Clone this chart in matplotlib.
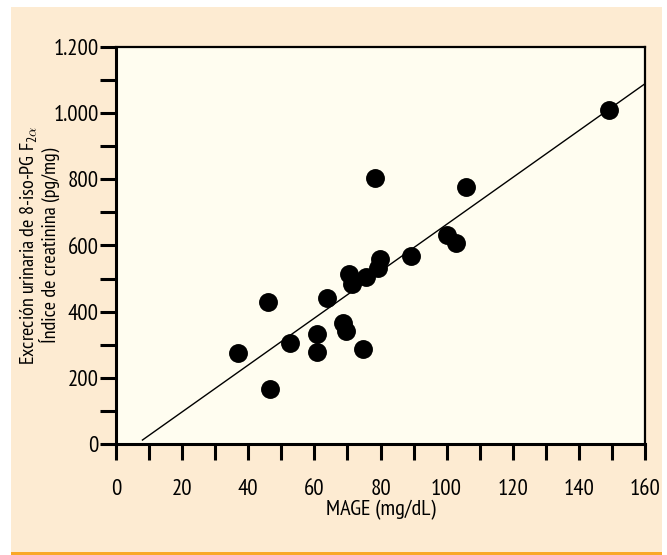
import matplotlib
matplotlib.use('Agg')
import matplotlib.pyplot as plt
from matplotlib.patches import Rectangle
from matplotlib import font_manager
import numpy as np


# valores
mage = [37.0, 45.9, 46.6, 52.6, 60.9, 60.7, 63.7, 68.7, 69.5, 74.6, 70.4,
        71.5, 75.7, 79.8, 79.2, 78.3, 89.2, 100.2, 102.7, 105.9, 149.0]
iso_pg = [274, 429, 165, 306, 334, 278, 440, 366, 341, 287, 515,
          483, 505, 558, 533, 803, 568, 631, 608, 776, 1010]

# recta de regresion (extremos leidos)
fit_x = [8, 160]
fit_y = [12, 1089]

xticks_major = [0, 20, 40, 60, 80, 100, 120, 140, 160]
xticks_minor = [10, 30, 50, 70, 90, 110, 130, 150]
yticks_major = [0, 200, 400, 600, 800, 1000, 1200]
yticks_minor = [100, 300, 500, 700, 900, 1100]
ytick_labels = ['0', '200', '400', '600', '800', '1.000', '1.200']

peach = '#FDEBD2'
ivory = '#FFFDF0'
orange = '#F9A828'

# fuente condensada parecida a Myriad Condensed
installed = {f.name for f in font_manager.fontManager.ttflist}
narrow = 'DejaVu Sans'
for name in ['PT Sans Narrow', 'Roboto Condensed', 'Fira Sans Condensed',
             'Open Sans Condensed', 'Encode Sans Condensed', 'Archivo Narrow',
             'IBM Plex Sans Condensed', 'Liberation Sans Narrow']:
    if name in installed:
        narrow = name
        break

plt.rcParams['font.family'] = [narrow, 'DejaVu Sans']
plt.rcParams['mathtext.fontset'] = 'custom'
plt.rcParams['mathtext.rm'] = narrow
plt.rcParams['mathtext.it'] = narrow + ':italic'

fig = plt.figure(figsize=(6.67, 5.55), dpi=100, facecolor='white')

# fondo y linea naranja
fig.patches.append(Rectangle((11 / 667, 3 / 555), 651 / 667, 545 / 555,
                             transform=fig.transFigure, facecolor=peach,
                             edgecolor='none', zorder=-10))
fig.patches.append(Rectangle((11 / 667, 0), 651 / 667, 3 / 555,
                             transform=fig.transFigure, facecolor=orange,
                             edgecolor='none', zorder=-10))

ax = fig.add_axes([116 / 667, 111 / 555, 529 / 667, 397 / 555])
ax.set_facecolor(ivory)

ax.plot(fit_x, fit_y, color='black', lw=1.0, zorder=2)
ax.scatter(mage, iso_pg, s=185, color='black', zorder=3, linewidths=0)

ax.set_xlim(0, 160)
ax.set_ylim(0, 1200)
ax.set_xticks(xticks_major)
ax.set_xticks(xticks_minor, minor=True)
ax.set_yticks(yticks_major)
ax.set_yticks(yticks_minor, minor=True)
ax.set_yticklabels(ytick_labels)

for side in ['left', 'bottom']:
    ax.spines[side].set_linewidth(2.2)
for side in ['top', 'right']:
    ax.spines[side].set_linewidth(1.6)

ax.tick_params(which='both', direction='out', length=11.5, width=2.2, color='black')
ax.tick_params(axis='x', which='major', labelsize=16.5, pad=14)
ax.tick_params(axis='y', which='major', labelsize=16.5, pad=1)

ax.set_xlabel('MAGE (mg/dL)', fontsize=16, labelpad=0)
ax.set_ylabel('Excreción urinaria de 8-iso-PG F$_{2\\alpha}$\nÍndice de creatinina (pg/mg)',
              fontsize=14.5, linespacing=1.0, multialignment='center')
ax.yaxis.set_label_coords(-0.106, 0.5)

fig.savefig('out.png', dpi=100, facecolor='white')
